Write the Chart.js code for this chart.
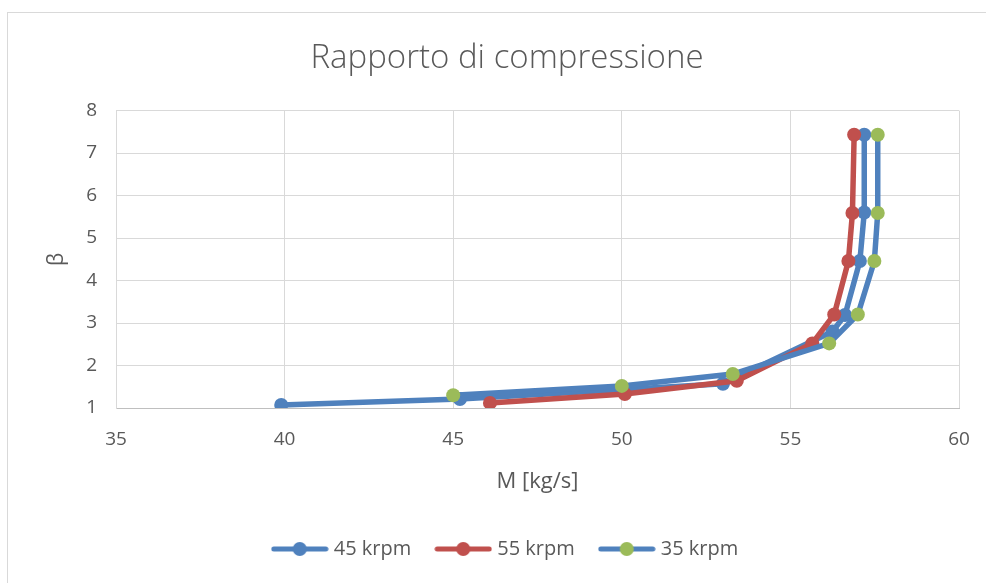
<!DOCTYPE html>
<html>
<head>
<meta charset="utf-8">
<script src="https://cdn.jsdelivr.net/npm/chart.js@4"></script>
<style>
    html, body { margin: 0; padding: 0; background: #fff; overflow: hidden; }
    #wrap { position: relative; width: 986px; height: 583px; }
    #frame { position: absolute; left: 7px; top: 12px; width: 990px; height: 590px; border: 1px solid #d9d9d9; box-sizing: border-box; }
    #chart { position: absolute; left: 0; top: 0; }
</style>
</head>
<body>
<div id="wrap">
    <div id="frame"></div>
    <canvas id="chart" width="986" height="583"></canvas>
</div>
<script>
/* Rapporto di compressione - beta vs portata */

const seriesNames = ['45 krpm', '55 krpm', '35 krpm'];

const m45 = [39.9, 45.2, 53.0, 56.25, 56.62, 57.06, 57.19, 57.19];
const beta45 = [1.07, 1.21, 1.57, 2.8, 3.19, 4.46, 5.6, 7.43];

const m55 = [46.09, 50.09, 53.41, 55.65, 56.3, 56.72, 56.84, 56.89];
const beta55 = [1.12, 1.33, 1.64, 2.52, 3.2, 4.46, 5.59, 7.43];

const m35 = [45.0, 50.0, 53.29, 56.15, 57.0, 57.49, 57.59, 57.59];
const beta35 = [1.3, 1.52, 1.8, 2.52, 3.2, 4.46, 5.59, 7.43];

const xTicks = [35, 40, 45, 50, 55, 60];
const yTicks = [1, 2, 3, 4, 5, 6, 7, 8];

const BLUE = '#4f81bd';
const RED = '#c0504d';
const GREEN = '#9bbb59';
const TEXT = '#595959';
const FONT = "'Open Sans', sans-serif";

function toPoints(xs, ys) {
    return xs.map((x, i) => ({ x, y: ys[i] }));
}

function makeDataset(label, xs, ys, lineColor, markColor, order) {
    return {
        label,
        data: toPoints(xs, ys),
        showLine: true,
        borderColor: lineColor,
        borderWidth: 5.5,
        pointRadius: 7,
        pointHoverRadius: 7,
        pointBackgroundColor: markColor,
        pointBorderColor: markColor,
        pointBorderWidth: 0,
        order,
        _mark: markColor,
    };
}

// piccola icona linea + marcatore per la legenda
function legendIcon(lineColor, markColor) {
    const c = document.createElement('canvas');
    c.width = 58;
    c.height = 16;
    const g = c.getContext('2d');
    g.strokeStyle = lineColor;
    g.lineWidth = 5;
    g.lineCap = 'round';
    g.beginPath();
    g.moveTo(3, 8);
    g.lineTo(55, 8);
    g.stroke();
    g.fillStyle = markColor;
    g.beginPath();
    g.arc(29, 8, 7, 0, Math.PI * 2);
    g.fill();
    return c;
}

const datasets = [
    makeDataset(seriesNames[0], m45, beta45, BLUE, BLUE, 3),
    makeDataset(seriesNames[1], m55, beta55, RED, RED, 2),
    makeDataset(seriesNames[2], m35, beta35, BLUE, GREEN, 1),
];

const ctx = document.getElementById('chart').getContext('2d');

new Chart(ctx, {
    type: 'scatter',
    data: { datasets },
    options: {
        responsive: false,
        animation: false,
        events: [],
        layout: { padding: { left: 55, right: 27, top: 12, bottom: 14 } },
        plugins: {
            title: {
                display: true,
                text: 'Rapporto di compressione',
                color: TEXT,
                font: { family: FONT, size: 33, weight: 300 },
                padding: { top: 27, bottom: 32 },
            },
            legend: {
                display: true,
                position: 'bottom',
                labels: {
                    usePointStyle: true,
                    pointStyleWidth: 48,
                    padding: 28,
                    color: TEXT,
                    font: { family: FONT, size: 20 },
                    sort: (a, b) => a.datasetIndex - b.datasetIndex,
                    generateLabels: (chart) => chart.data.datasets.map((ds, i) => ({
                        text: ds.label,
                        datasetIndex: i,
                        pointStyle: legendIcon(ds.borderColor, ds._mark),
                        fillStyle: ds._mark,
                        strokeStyle: ds.borderColor,
                        lineWidth: 0,
                        fontColor: TEXT,
                        hidden: false,
                    })),
                },
            },
            tooltip: { enabled: false },
        },
        scales: {
            x: {
                type: 'linear',
                min: xTicks[0],
                max: xTicks[xTicks.length - 1],
                afterBuildTicks: (s) => { s.ticks = xTicks.map(v => ({ value: v })); },
                afterFit: (s) => { s.height = 103; },
                grid: { color: '#d9d9d9', lineWidth: 1, drawTicks: true, tickLength: 20, tickColor: 'rgba(0,0,0,0)' },
                border: { color: '#bfbfbf', width: 1 },
                ticks: { color: TEXT, font: { family: FONT, size: 19 }, padding: 0 },
                title: {
                    display: true,
                    text: 'M [kg/s]',
                    color: TEXT,
                    font: { family: FONT, size: 22 },
                    padding: { top: 0, bottom: 16 },
                },
            },
            y: {
                type: 'linear',
                min: yTicks[0],
                max: yTicks[yTicks.length - 1],
                afterBuildTicks: (s) => { s.ticks = yTicks.map(v => ({ value: v })); },
                afterFit: (s) => { s.width = 61; },
                grid: { color: '#d9d9d9', lineWidth: 1, drawTicks: true, tickLength: 19, tickColor: 'rgba(0,0,0,0)' },
                border: { color: '#d9d9d9', width: 1 },
                ticks: { color: TEXT, font: { family: FONT, size: 19 }, padding: 0 },
                title: {
                    display: true,
                    text: 'β',
                    color: TEXT,
                    font: { family: FONT, size: 21 },
                    padding: { top: -10.6, bottom: 0 },
                },
            },
        },
    },
});
</script>
</body>
</html>
